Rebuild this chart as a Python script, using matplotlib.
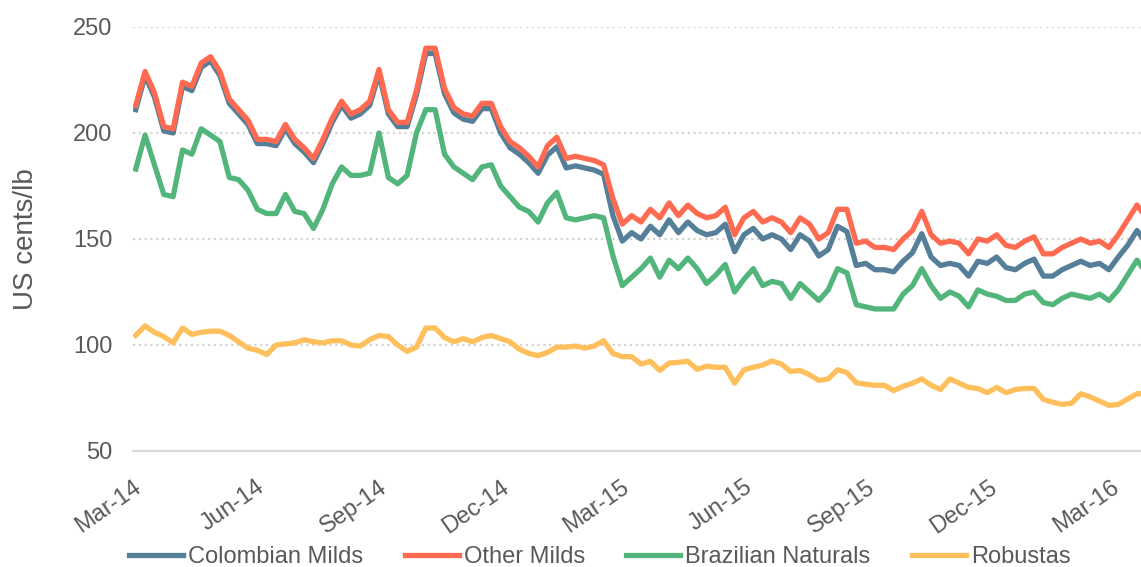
import pandas as pd
import matplotlib
matplotlib.use("Agg")
import matplotlib.pyplot as plt
import matplotlib.dates as mdates

# weekly readings, ICO composite group prices (US cents/lb)
weeks = pd.date_range("2014-03-03", periods=109, freq="7D")

colombian_milds = [
    211, 227, 217, 201, 200, 222, 220, 231, 234, 227, 214, 209, 204, 195, 195, 194,
    202, 195, 191, 186, 195, 205, 213, 207, 209, 213, 228, 209, 203, 203, 218,
    237.5, 237.5, 218.5, 209.5, 206.5, 205.5, 211.5, 211.5,
    200, 193, 190, 186, 181,
    189.5, 193.5, 183.5, 184.5, 183.5, 182.5, 180.5,
    161, 149, 153, 150, 156, 152, 159, 153, 158, 154, 152, 153, 157, 144, 152, 155,
    150, 152, 150, 145, 152, 149, 142, 145, 156,
    153.5, 137.5, 138.5, 135.5, 135.5, 134.5, 139.5, 143.5, 152.5, 141.5, 137.5,
    138.5, 137.5, 132.5, 139.5, 138.5, 141.5, 136.5, 135.5, 138.5, 140.5, 132.5,
    132.5, 135.5, 137.5, 139.5, 137.5, 138.5, 135.5, 141.5,
    147, 154, 148,
]
other_milds = [
    213, 229, 219, 203, 202, 224, 222, 233, 236, 229, 216, 211, 206, 197, 197, 196,
    204, 197, 193, 188, 197, 207, 215, 209, 211, 215, 230, 211, 205, 205, 220,
    240, 240, 221, 212, 209, 208, 214, 214, 203, 196, 193, 189, 184,
    194, 198, 188, 189, 188, 187, 185, 169, 157, 161, 158, 164, 160, 167, 161, 166,
    162, 160, 161, 165, 152, 160, 163, 158, 160, 158, 153, 160, 157, 150, 153, 164,
    164, 148, 149, 146, 146, 145, 150, 154, 163, 152, 148, 149, 148, 143, 150, 149,
    152, 147, 146, 149, 151, 143, 143, 146, 148, 150, 148, 149, 146, 152, 159, 166,
    160,
]
brazilian_naturals = [
    183, 199, 185, 171, 170, 192, 190, 202, 199, 196, 179, 178, 173, 164, 162, 162,
    171, 163, 162, 155, 164, 176, 184, 180, 180, 181, 200, 179, 176, 180, 200, 211,
    211, 190, 184, 181, 178, 184, 185, 175, 170, 165, 163, 158, 167, 172, 160, 159,
    160, 161, 160, 142, 128, 132, 136, 141, 132, 140, 136, 141, 136, 129, 133, 138,
    125, 131, 136, 128, 130, 129, 122, 129, 125, 121, 126, 136, 134, 119, 118, 117,
    117, 117, 124, 128, 136, 128, 122, 125, 123, 118, 126, 124, 123, 121, 121, 124,
    125, 120, 119, 122, 124, 123, 122, 124, 121, 126, 133, 140, 134,
]
robustas = [
    104.5, 109, 106, 104, 101, 108, 105, 106, 106.5, 106.5, 104.5, 101.5, 98.5, 97.5,
    95.5, 100, 100.5, 101, 102.5, 101.5, 101, 102, 102, 100, 99.5, 102.5, 104.5, 104,
    100, 97, 99, 108, 108, 103.5, 101.5, 103, 101.5, 103.5, 104.5, 103, 101.5, 98,
    96, 95, 96.5, 99, 99, 99.5, 98.5, 99.5, 102, 96, 94.5, 94.5, 91, 92.3, 88, 91.5,
    91.8, 92.3, 88.5, 90, 89.5, 89.5, 82, 88.3, 89.5, 90.5, 92.5, 91, 87.5, 88, 86,
    83.3, 84, 88.3, 87, 82.2, 81.5, 81, 81, 78.5, 80.5, 82, 84, 81, 79, 84, 82, 80,
    79.5, 77.5, 80, 77.5, 79, 79.5, 79.5, 74.3, 73, 72, 72.5, 77, 75.5, 73.5, 71.5,
    72, 74.5, 77, 77,
]

names = ["Colombian Milds", "Other Milds", "Brazilian Naturals", "Robustas"]
colors = ["#557f98", "#ff6a50", "#52b57c", "#ffbf5c"]

plt.rcParams["font.family"] = ["Liberation Sans", "DejaVu Sans"]

fig = plt.figure(figsize=(11.41, 5.67), dpi=100)
ax = fig.add_axes([0.1166, 0.2046, 0.8834, 0.7478])

for vals, name, col in zip([colombian_milds, other_milds, brazilian_naturals, robustas], names, colors):
    ax.plot(weeks, vals, color=col, lw=3.8, label=name, solid_joinstyle="round")

ax.set_ylim(50, 250)
ax.set_yticks([50, 100, 150, 200, 250])
ax.set_xlim(pd.Timestamp("2014-03-01"), pd.Timestamp("2016-03-24"))
ax.xaxis.set_major_locator(mdates.MonthLocator(bymonth=[3, 6, 9, 12]))
ax.xaxis.set_major_formatter(mdates.DateFormatter("%b-%y"))

# dotted gridlines, solid base line at 50
ax.grid(axis="y", color="#d4d4d4", lw=1.6, linestyle=(0, (1, 1.6)))
ax.set_axisbelow(True)
for s in ["top", "right", "left"]:
    ax.spines[s].set_visible(False)
ax.spines["bottom"].set_color("#d9d9d9")
ax.spines["bottom"].set_linewidth(1.5)

ax.tick_params(axis="both", length=0, labelsize=17, labelcolor="#595959")
ax.tick_params(axis="y", pad=15)
ax.tick_params(axis="x", pad=18)
for lab in ax.get_xticklabels():
    lab.set_rotation(35)
    lab.set_ha("right")
    lab.set_rotation_mode("anchor")

ax.set_ylabel("US cents/lb", fontsize=20, color="#595959", labelpad=24)

ax.legend(loc="center", bbox_to_anchor=(0.463, -0.25), ncol=4, frameon=False,
          fontsize=17, handlelength=2.3, handletextpad=0.2, columnspacing=1.75,
          labelcolor="#595959")

fig.savefig("out.png", dpi=100)
